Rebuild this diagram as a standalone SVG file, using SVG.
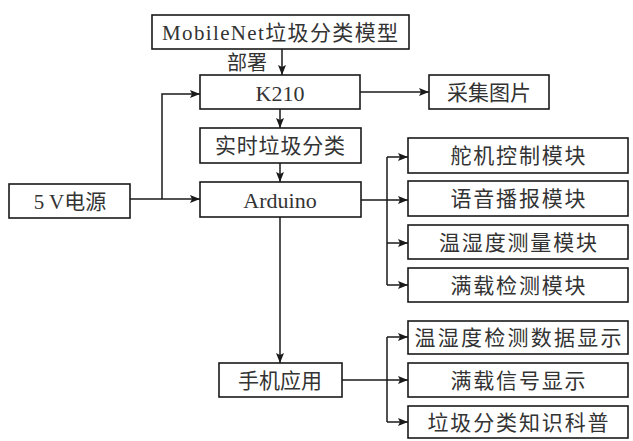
<svg xmlns="http://www.w3.org/2000/svg" width="633" height="441" viewBox="0 0 633 441">
<defs>
<marker id="ah" viewBox="0 0 10 8" refX="10" refY="4" markerWidth="10" markerHeight="8" markerUnits="userSpaceOnUse" orient="auto">
<path d="M0,0 L10,4 L0,8 L2,4 z" fill="#1a1a1a"/>
</marker>
<style>
.box{fill:#fff;stroke:#1a1a1a;stroke-width:1.6}
.t{font-family:"Liberation Serif","Noto Sans CJK SC",serif;font-size:21px;fill:#333;text-anchor:middle;dominant-baseline:central}
.c{fill:none;stroke:#1a1a1a;stroke-width:1.5}
.a{marker-end:url(#ah)}
</style>
</defs>
<rect width="633" height="441" fill="#fff"/>
<g id="connectors">
<path class="c a" d="M282,49 V75"/>
<path class="c a" d="M280,109 V128"/>
<path class="c a" d="M280,163 V182"/>
<path class="c a" d="M130,199 H200"/>
<path class="c a" d="M162,199 V94 H200"/>
<path class="c a" d="M360,92 H429"/>
<path class="c" d="M361,200 H387 M387,157 V285"/>
<path class="c a" d="M387,157 H408"/>
<path class="c a" d="M387,200 H408"/>
<path class="c a" d="M387,243 H408"/>
<path class="c a" d="M387,285 H408"/>
<path class="c a" d="M280,217 V363"/>
<path class="c" d="M342,380 H387 M387,337 V422"/>
<path class="c a" d="M387,337 H408"/>
<path class="c a" d="M387,380 H408"/>
<path class="c a" d="M387,422 H408"/>
<text class="t" x="247" y="63" style="font-size:20px">部署</text>
</g>
<g id="mobilenet"><rect class="box" x="152" y="15" width="257" height="34"/><text class="t" x="280" y="33" textLength="236" lengthAdjust="spacing">MobileNet垃圾分类模型</text></g>
<g id="k210"><rect class="box" x="200" y="75" width="160" height="34"/><text class="t" x="280" y="93" style="font-size:22px">K210</text></g>
<g id="caiji"><rect class="box" x="429" y="75" width="120" height="34"/><text class="t" x="489" y="93">采集图片</text></g>
<g id="shishi"><rect class="box" x="200" y="128" width="161" height="35"/><text class="t" x="280" y="146" textLength="130" lengthAdjust="spacing">实时垃圾分类</text></g>
<g id="power"><rect class="box" x="9" y="184" width="121" height="34"/><text class="t" x="70" y="202">5 V电源</text></g>
<g id="arduino"><rect class="box" x="200" y="182" width="161" height="35"/><text class="t" x="280" y="200" style="font-size:22px">Arduino</text></g>
<g id="duoji"><rect class="box" x="408" y="138" width="220" height="35"/><text class="t" x="518" y="156" textLength="135" lengthAdjust="spacing">舵机控制模块</text></g>
<g id="yuyin"><rect class="box" x="408" y="181" width="220" height="35"/><text class="t" x="518" y="199" textLength="135" lengthAdjust="spacing">语音播报模块</text></g>
<g id="wenshidu"><rect class="box" x="408" y="225" width="220" height="34"/><text class="t" x="518" y="243" textLength="158" lengthAdjust="spacing">温湿度测量模块</text></g>
<g id="manzai"><rect class="box" x="408" y="268" width="220" height="34"/><text class="t" x="518" y="286" textLength="135" lengthAdjust="spacing">满载检测模块</text></g>
<g id="shouji"><rect class="box" x="219" y="363" width="123" height="34"/><text class="t" x="280" y="381">手机应用</text></g>
<g id="wsdsj"><rect class="box" x="408" y="321" width="220" height="33"/><text class="t" x="518" y="338" textLength="207" lengthAdjust="spacing">温湿度检测数据显示</text></g>
<g id="mzxh"><rect class="box" x="408" y="363" width="220" height="34"/><text class="t" x="518" y="381" textLength="135" lengthAdjust="spacing">满载信号显示</text></g>
<g id="ljzs"><rect class="box" x="408" y="406" width="220" height="32"/><text class="t" x="518" y="423" textLength="181" lengthAdjust="spacing">垃圾分类知识科普</text></g>
</svg>
